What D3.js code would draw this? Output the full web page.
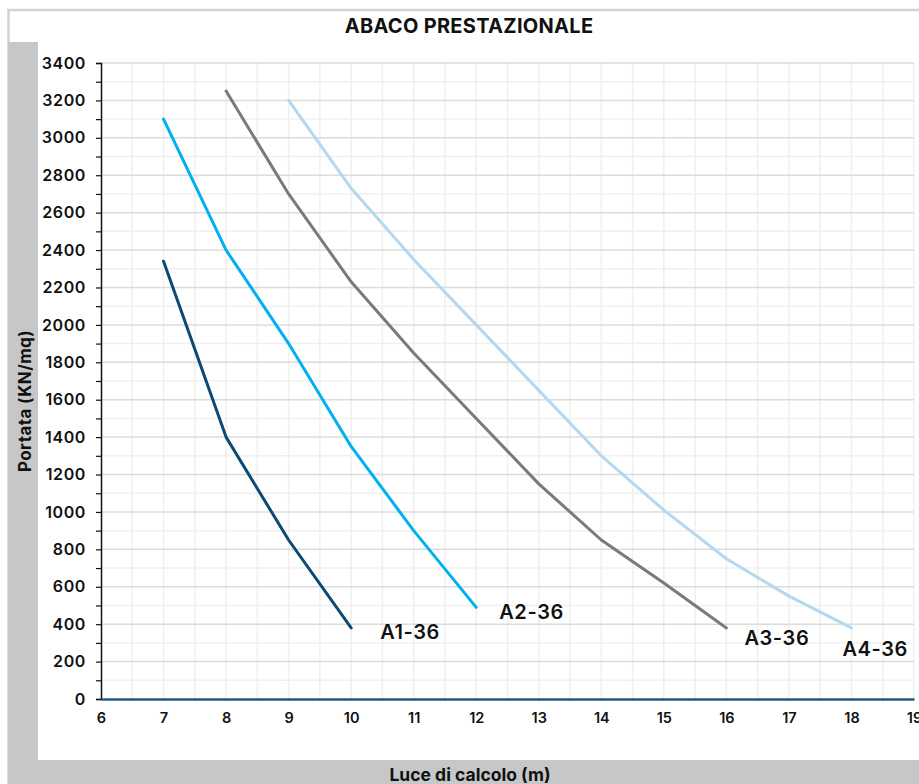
<!DOCTYPE html>
<html>
<head>
<meta charset="utf-8">
<script src="https://cdn.jsdelivr.net/npm/d3@7"></script>
<style>
  html, body { margin: 0; padding: 0; background: #fff; }
  svg { display: block; font-family: Inter, "Noto Sans", sans-serif; }
</style>
</head>
<body>
<div id="chart"></div>
<script>
// values
const seriesNames = ['A1-36', 'A2-36', 'A3-36', 'A4-36'];
const seriesColors = ['#0b4a75', '#00b0f0', '#7a7a7a', '#b4d8f0'];
const a1x = [7, 8, 9, 10];
const a1y = [2340, 1400, 850, 380];
const a2x = [7, 8, 9, 10, 11, 12];
const a2y = [3100, 2400, 1900, 1350, 900, 490];
const a3x = [8, 9, 10, 11, 12, 13, 14, 15, 16];
const a3y = [3250, 2700, 2230, 1850, 1500, 1150, 850, 620, 380];
const a4x = [9, 10, 11, 12, 13, 14, 15, 16, 17, 18];
const a4y = [3200, 2730, 2350, 2000, 1650, 1300, 1010, 750, 550, 380];
const xTicks = [6, 7, 8, 9, 10, 11, 12, 13, 14, 15, 16, 17, 18, 19];
const yTicks = [0, 200, 400, 600, 800, 1000, 1200, 1400, 1600, 1800, 2000, 2200, 2400, 2600, 2800, 3000, 3200, 3400];

const title = 'ABACO PRESTAZIONALE';
const xTitle = 'Luce di calcolo (m)';
const yTitle = 'Portata (KN/mq)';

const W = 919, H = 784;
const svg = d3.select('#chart').append('svg').attr('width', W).attr('height', H);

// frame + grey bands
svg.append('rect').attr('x', 8.5).attr('y', 10).attr('width', W).attr('height', H)
  .attr('fill', '#fff').attr('stroke', '#d2d2d2').attr('stroke-width', 2.5);
svg.append('rect').attr('x', 8).attr('y', 42).attr('width', 30).attr('height', H - 42).attr('fill', '#c6c7c9');
svg.append('rect').attr('x', 8).attr('y', 760).attr('width', W - 8).attr('height', 24).attr('fill', '#c6c7c9');

const x = d3.scaleLinear().domain([6, 19]).range([101, 914]);
const y = d3.scaleLinear().domain([0, 3400]).range([699, 63]);

const grid = svg.append('g');
// minor horizontal (every 100)
grid.selectAll('.hmin').data(d3.range(100, 3400, 200)).join('line')
  .attr('x1', x(6)).attr('x2', x(19)).attr('y1', d => y(d)).attr('y2', d => y(d))
  .attr('stroke', '#f0f0f0').attr('stroke-width', 1.5);
// vertical (every 0.5)
grid.selectAll('.v').data(d3.range(6.5, 19.01, 0.5)).join('line')
  .attr('x1', d => x(d)).attr('x2', d => x(d)).attr('y1', y(0)).attr('y2', y(3400))
  .attr('stroke', '#efefef').attr('stroke-width', 1.5);
// major horizontal
grid.selectAll('.hmaj').data(yTicks.slice(1)).join('line')
  .attr('x1', x(6)).attr('x2', x(19)).attr('y1', d => y(d)).attr('y2', d => y(d))
  .attr('stroke', '#dcdcdc').attr('stroke-width', 1.5);

// y axis
const yAxis = svg.append('g').attr('transform', `translate(${x(6)},0)`)
  .call(d3.axisLeft(y).tickValues(d3.range(0, 3401, 100)).tickSize(5).tickPadding(10)
    .tickFormat(d => d % 200 === 0 ? d : ''));
yAxis.select('.domain').attr('stroke', '#111').attr('stroke-width', 1.5);
yAxis.selectAll('.tick line').attr('stroke', '#111').attr('stroke-width', 1.2);
yAxis.selectAll('text').attr('font-size', 16).attr('font-weight', 600).attr('fill', '#111')
  .attr('letter-spacing', 0.6).attr('font-family', 'Inter, sans-serif');

// x axis
const xAxis = svg.append('g').attr('transform', `translate(0,${y(0)})`)
  .call(d3.axisBottom(x).tickValues(xTicks).tickSize(0).tickPadding(14));
xAxis.select('.domain').attr('stroke', '#1f5a8a').attr('stroke-width', 2.5);
xAxis.selectAll('text').attr('font-size', 14.5).attr('font-weight', 600).attr('fill', '#111')
  .attr('font-family', 'Inter, sans-serif');

// series
const series = [
  { name: seriesNames[0], xs: a1x, ys: a1y, color: seriesColors[0] },
  { name: seriesNames[1], xs: a2x, ys: a2y, color: seriesColors[1] },
  { name: seriesNames[2], xs: a3x, ys: a3y, color: seriesColors[2] },
  { name: seriesNames[3], xs: a4x, ys: a4y, color: seriesColors[3] }
];
const line = d3.line().x(d => x(d[0])).y(d => y(d[1]));
// label offsets from each series' last point (px)
const labelOff = [[29, 4], [23, 4], [18, 10], [-9, 21]];

series.forEach((s, i) => {
  const pts = s.xs.map((v, j) => [v, s.ys[j]]);
  svg.append('path').datum(pts)
    .attr('fill', 'none').attr('stroke', s.color).attr('stroke-width', 3)
    .attr('stroke-linecap', 'round').attr('stroke-linejoin', 'round')
    .attr('d', line);
  const last = pts[pts.length - 1];
  svg.append('text')
    .attr('x', x(last[0]) + labelOff[i][0]).attr('y', y(last[1]) + labelOff[i][1])
    .attr('dy', '0.36em').attr('font-size', 20).attr('font-weight', 600).attr('fill', '#111')
    .attr('letter-spacing', 0.6).text(s.name);
});

// titles
svg.append('text').attr('x', 469).attr('y', 33).attr('text-anchor', 'middle')
  .attr('font-size', 20).attr('font-weight', 700).attr('fill', '#111')
  .attr('letter-spacing', 0.3).text(title);
svg.append('text').attr('x', 470).attr('y', 781).attr('text-anchor', 'middle')
  .attr('font-size', 17.5).attr('font-weight', 700).attr('fill', '#111').text(xTitle);
svg.append('text').attr('transform', 'translate(31,401) rotate(-90)').attr('text-anchor', 'middle')
  .attr('font-size', 17).attr('font-weight', 700).attr('fill', '#111')
  .attr('letter-spacing', 0.4).text(yTitle);
</script>
</body>
</html>
